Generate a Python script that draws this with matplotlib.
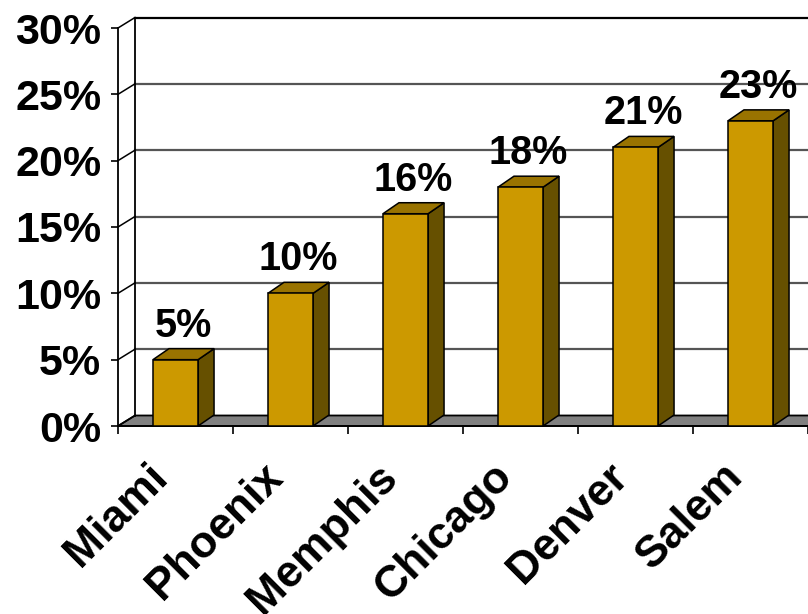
import matplotlib
matplotlib.use("Agg")
import matplotlib.pyplot as plt
import matplotlib.transforms as mtransforms
from matplotlib.patches import Polygon, Rectangle

# --- Data ---
cities = ["Miami", "Phoenix", "Memphis", "Chicago", "Denver", "Salem"]
shares = [5, 10, 16, 18, 21, 23]
y_ticks = [0, 5, 10, 15, 20, 25, 30]
y_tick_labels = [f"{t}%" for t in y_ticks]

# --- Style ---
FRONT = "#CC9900"
TOP = "#997300"
SIDE = "#665000"
FLOOR = "#808080"
GRID = "#555555"

plt.rcParams["font.family"] = ["Liberation Sans", "DejaVu Sans"]
plt.rcParams["font.weight"] = "bold"

W, H = 808, 614
fig = plt.figure(figsize=(W / 100, H / 100), dpi=100)
ax = fig.add_axes([118 / W, 188 / H, 690 / W, 398 / H])

n = len(cities)
ymax = y_ticks[-1]
ax.set_xlim(0, n)
ax.set_ylim(0, ymax)

# pixel -> data conversion for the fake 3D depth
px_x = n / 690
px_y = ymax / 398
wall_dx, wall_dy = 17 * px_x, 10.5 * px_y
bar_dx, bar_dy = 16 * px_x, 11 * px_y
half = 0.196

# floor
ax.add_patch(Polygon([(0, 0), (wall_dx, wall_dy), (n + wall_dx, wall_dy), (n, 0)],
                     closed=True, fc=FLOOR, ec="black", lw=1.3, clip_on=False, zorder=1))

# back wall gridlines
for t in y_ticks[1:]:
    ax.plot([wall_dx, n + wall_dx], [t + wall_dy] * 2,
            color="black" if t == ymax else GRID, lw=1.6, clip_on=False, zorder=1)

# left wall
ax.plot([wall_dx, wall_dx], [wall_dy, ymax + wall_dy], color="black", lw=1.3, clip_on=False, zorder=1)
for t in y_ticks:
    ax.plot([0, wall_dx], [t, t + wall_dy], color="black", lw=1.1, clip_on=False, zorder=1)

# bars
for i, v in enumerate(shares):
    x0 = i + 0.5 - half
    x1 = i + 0.5 + half
    ax.add_patch(Polygon([(x1, 0), (x1 + bar_dx, bar_dy), (x1 + bar_dx, v + bar_dy), (x1, v)],
                         closed=True, fc=SIDE, ec="black", lw=1.1, clip_on=False, zorder=3))
    ax.add_patch(Polygon([(x0, v), (x0 + bar_dx, v + bar_dy), (x1 + bar_dx, v + bar_dy), (x1, v)],
                         closed=True, fc=TOP, ec="black", lw=1.1, clip_on=False, zorder=3))
    ax.add_patch(Rectangle((x0, 0), 2 * half, v, fc=FRONT, ec="black", lw=1.1,
                           clip_on=False, zorder=4))
    ax.text(i + 0.5 + bar_dx / 2, v + bar_dy + 0.3, f"{v}%", ha="center", va="bottom",
            fontsize=28.5, fontweight="bold", zorder=5)

# axes
for side in ("top", "right"):
    ax.spines[side].set_visible(False)
ax.spines["left"].set_linewidth(1.3)
ax.spines["bottom"].set_linewidth(1.3)
ax.spines["left"].set_zorder(2)
ax.spines["bottom"].set_zorder(2)

ax.set_yticks(y_ticks, y_tick_labels, fontsize=31, fontweight="bold")
ax.tick_params(axis="y", length=5, width=1.2, pad=7, direction="out")
ax.set_xticks(range(n + 1), [""] * (n + 1))
ax.tick_params(axis="x", length=5.5, width=1.2, direction="out")

offset = mtransforms.ScaledTranslation(-0.29, -0.30, fig.dpi_scale_trans)
for i, name in enumerate(cities):
    ax.text(i + 0.5, 0, name, rotation=45, ha="right", va="top", rotation_mode="anchor",
            fontsize=32, fontweight="bold", transform=ax.transData + offset)

fig.savefig("out.png", dpi=100)
